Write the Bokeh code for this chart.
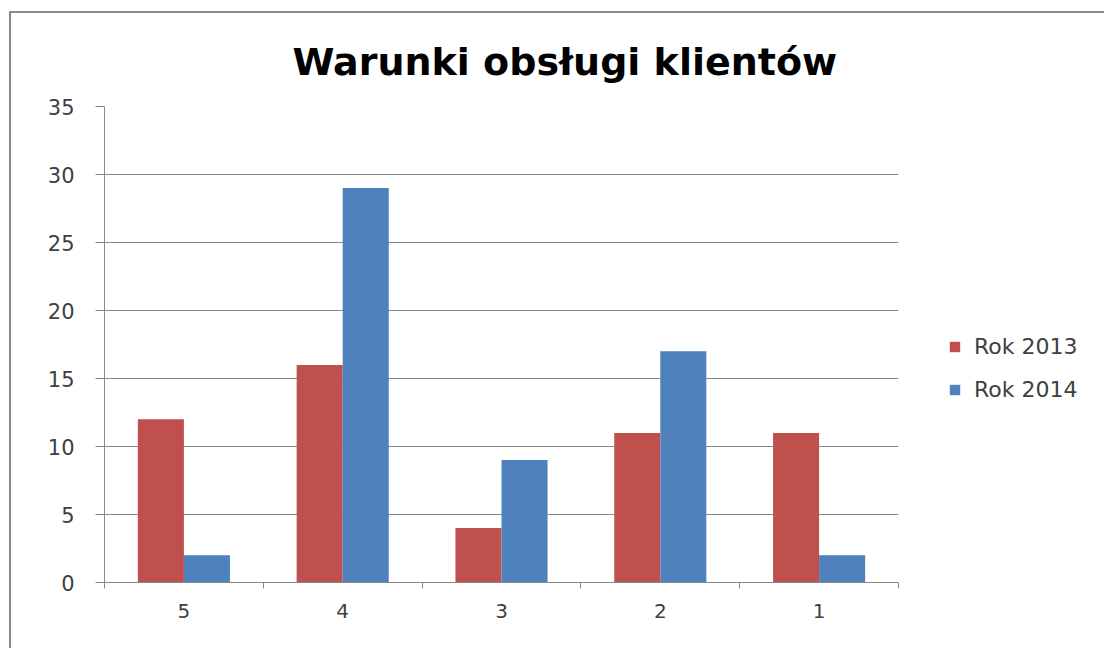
import numpy as np
from bokeh.plotting import figure
from bokeh.models import Range1d, FixedTicker, Legend, LegendItem
from bokeh.transform import dodge
from bokeh.embed import file_html
from bokeh.resources import INLINE

title = "Warunki obsługi klientów"
categories = ["5", "4", "3", "2", "1"]
rok_2013 = [12, 16, 4, 11, 11]
rok_2014 = [2, 29, 9, 17, 2]
series_names = ["Rok 2013", "Rok 2014"]
y_ticks = [0, 5, 10, 15, 20, 25, 30, 35]

RED = "#C0504D"
BLUE = "#4F81BD"
GRID = "#8a8a8a"
TXT = "#404040"

centers = list(np.arange(len(categories)) + 0.5)
bounds = list(np.arange(len(categories) + 1).astype(float))
data = dict(x=centers, r2013=rok_2013, r2014=rok_2014)

p = figure(width=1090, height=635, output_backend="svg", toolbar_location=None,
           x_range=Range1d(0, len(categories)), y_range=Range1d(0, 35),
           frame_width=794, frame_height=476,
           min_border_left=93, min_border_top=93, min_border_bottom=66, min_border_right=200)
p.styles = {"border-left": f"2px solid {GRID}", "border-top": f"2px solid {GRID}",
            "margin-left": "9px", "margin-top": "11px"}

p.title.text = title
p.title.text_font = "DejaVu Sans"
p.title.text_font_style = "bold"
p.title.text_font_size = "38px"
p.title.align = "left"
p.title.offset = 188
p.title.standoff = 46
p.title.text_color = "#000000"

bw = 0.29
r1 = p.vbar(x=dodge("x", -bw / 2, range=p.x_range), top="r2013", width=bw, source=data,
            fill_color=RED, line_color=None)
r2 = p.vbar(x=dodge("x", bw / 2, range=p.x_range), top="r2014", width=bw, source=data,
            fill_color=BLUE, line_color=None)

# x axis
xa = p.xaxis[0]
xa.ticker = FixedTicker(ticks=centers, minor_ticks=bounds)
xa.major_label_overrides = {c: lab for c, lab in zip(centers, categories)}
xa.major_tick_line_color = None
xa.minor_tick_line_color = GRID
xa.minor_tick_in = 0
xa.minor_tick_out = 6
xa.axis_line_color = GRID
xa.major_label_standoff = 15
xa.major_label_text_font = "DejaVu Sans"
xa.major_label_text_font_size = "20px"
xa.major_label_text_color = TXT

ya = p.yaxis[0]
ya.ticker = FixedTicker(ticks=y_ticks)
ya.axis_line_color = GRID
ya.major_tick_line_color = GRID
ya.major_tick_in = 0
ya.major_tick_out = 9
ya.minor_tick_line_color = None
ya.major_label_standoff = 21
ya.major_label_text_font = "DejaVu Sans"
ya.major_label_text_font_size = "21px"
ya.major_label_text_color = TXT

p.xgrid.grid_line_color = None
p.ygrid.grid_line_color = GRID
p.ygrid.grid_line_width = 1
p.outline_line_color = None

legend = Legend(items=[LegendItem(label=series_names[0], renderers=[r1]),
                       LegendItem(label=series_names[1], renderers=[r2])],
                location=(50, 180), orientation="vertical",
                glyph_width=13, glyph_height=13, label_height=22, spacing=18,
                label_standoff=13, padding=0, margin=0,
                border_line_color=None, background_fill_alpha=0,
                label_text_font="DejaVu Sans", label_text_font_size="22px",
                label_text_color=TXT)
p.add_layout(legend, "right")

open("out.html", "w").write(file_html(p, INLINE))
